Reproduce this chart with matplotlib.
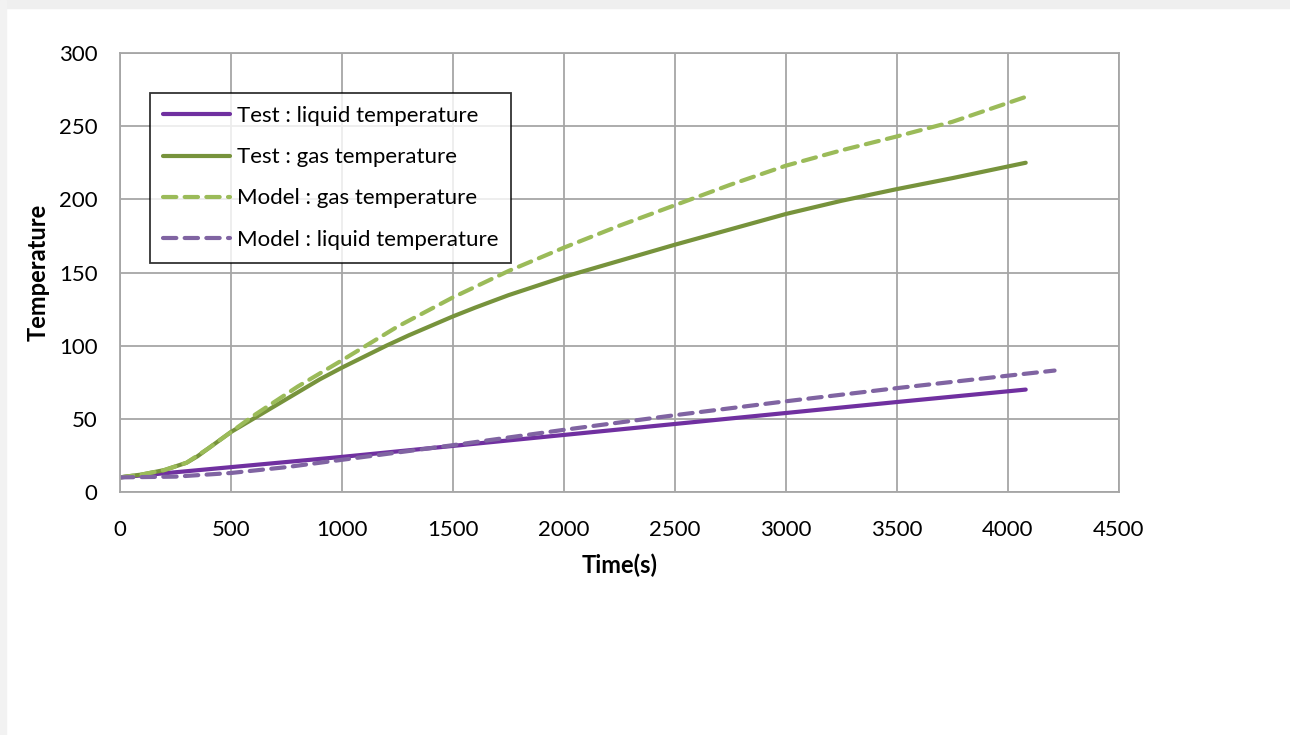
import matplotlib.pyplot as plt
from matplotlib.patches import Rectangle

plt.rcParams['font.family'] = ['Lato', 'DejaVu Sans']

# time axis (s) and temperatures
t_test_liq = [0, 500, 1000, 1500, 2000, 2500, 3000, 3500, 4080]
test_liq = [10, 17, 24, 31.5, 39, 46.5, 54, 61.5, 70]

t_model_liq = [0, 250, 500, 750, 1000, 1250, 1500, 2000, 2500, 3000, 3500, 4000, 4210]
model_liq = [10, 10.5, 13, 17, 22, 27, 32, 42.5, 52.5, 62, 71, 79.5, 83]

t_test_gas = [0, 100, 200, 300, 350, 400, 450, 500, 600, 700, 800, 900, 1000,
              1100, 1200, 1300, 1400, 1500, 1600, 1750, 2000, 2250, 2500, 2750,
              3000, 3250, 3500, 3750, 4080]
test_gas = [10, 12, 15, 20, 24.5, 30, 35.5, 41, 50, 59, 68, 77, 85,
            92.5, 100, 107, 113.5, 120, 126, 134.5, 147, 158, 169, 179.5,
            190, 199, 207, 214.5, 225]

t_model_gas = [0, 100, 200, 300, 400, 500, 600, 700, 800, 900, 1000, 1250,
               1500, 1750, 2000, 2250, 2500, 2750, 3000, 3250, 3500, 3750, 4080]
model_gas = [10, 12, 15, 20, 30, 41, 52, 62, 72, 81, 90, 113,
             133, 151, 167, 182, 196, 210, 223, 233.5, 243, 253, 270]

fig = plt.figure(figsize=(12.9, 7.35), dpi=100)
fig.patch.set_facecolor('white')

# soft grey strip along the top and left edges
fig.patches.append(Rectangle((0, 1 - 8 / 735), 1, 8 / 735, transform=fig.transFigure,
                             color='#EFEFEF', zorder=0))
fig.patches.append(Rectangle((0, 0), 6 / 1290, 1, transform=fig.transFigure,
                             color='#F2F2F2', zorder=0))

ax = fig.add_axes([0.093, 0.3306, 0.7744, 0.5973])

ax.plot(t_test_liq, test_liq, color='#7030A0', lw=3,
        label='Test : liquid temperature', solid_capstyle='round')
ax.plot(t_test_gas, test_gas, color='#77933C', lw=3,
        label='Test : gas temperature', solid_capstyle='round')
ax.plot(t_model_gas, model_gas, color='#9BBB59', lw=3, ls=(0, (3.2, 2)),
        label='Model : gas temperature', dash_capstyle='round')
ax.plot(t_model_liq, model_liq, color='#8064A2', lw=3, ls=(0, (3.2, 2)),
        label='Model : liquid temperature', dash_capstyle='round')

ax.set_xlim(0, 4500)
ax.set_ylim(0, 300)
ax.set_xticks(range(0, 4501, 500))
ax.set_yticks(range(0, 301, 50))
ax.grid(True, color='#A6A6A6', lw=1.3)
ax.set_axisbelow(True)
for s in ax.spines.values():
    s.set_color('#A6A6A6')
    s.set_linewidth(1.3)
ax.tick_params(length=0, labelsize=16)
ax.tick_params(axis='y', pad=16)
ax.tick_params(axis='x', pad=20)

ax.set_xlabel('Time(s)', fontsize=17, fontweight='bold', labelpad=10)
ax.set_ylabel('Temperature', fontsize=17, fontweight='bold', labelpad=7)

leg = ax.legend(loc='upper left', bbox_to_anchor=(0.03, 0.909), fontsize=16,
                frameon=True, fancybox=False, edgecolor='black',
                handlelength=3.0, handletextpad=0.3, borderpad=0.6,
                labelspacing=0.95, borderaxespad=0)
leg.get_frame().set_linewidth(1.3)

fig.savefig('out.png', dpi=100)
